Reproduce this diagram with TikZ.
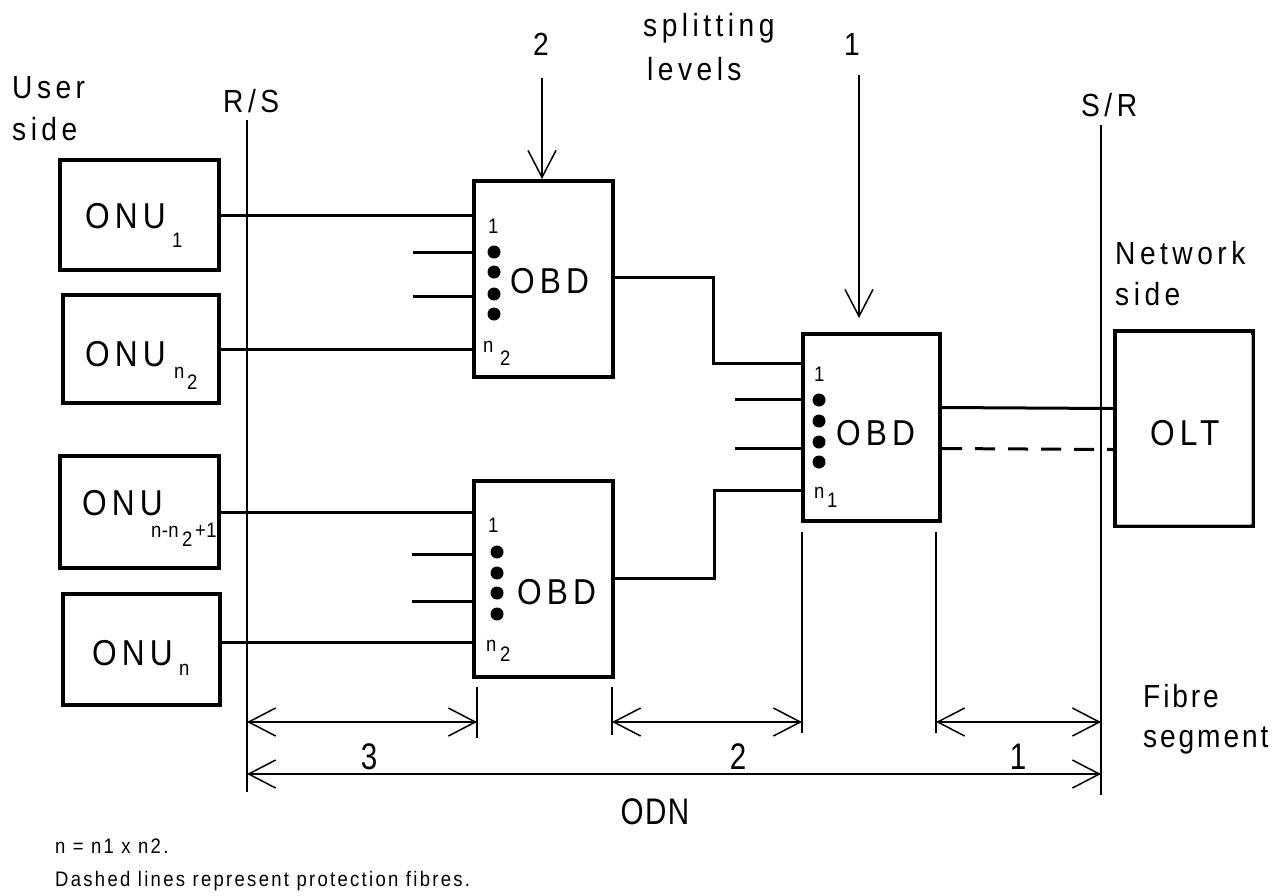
\documentclass[tikz,border=0pt]{standalone}
\usepackage{fontspec}
\setmainfont{Liberation Sans}[FakeStretch=0.88, LetterSpace=14]
\newfontfamily\tightfont{Liberation Sans}[FakeStretch=0.88, LetterSpace=9]
\newfontfamily\notefont{Liberation Sans}[FakeStretch=0.88, LetterSpace=11]
\newfontfamily\smallfont{Liberation Sans}[FakeStretch=0.88, LetterSpace=2]
\newfontfamily\narrowfont{Liberation Sans}[FakeStretch=0.8, LetterSpace=4]
\usetikzlibrary{arrows.meta,calc}
\begin{document}
\begin{tikzpicture}[x=1pt,y=-1pt,
  box/.style={draw, line width=4pt, inner sep=0pt},
  fibre/.style={line width=3pt},
  ref/.style={line width=1.5pt},
  barb/.tip={Straight Barb[length=27pt,width=28pt]},
  dim/.style={line width=1.5pt, barb-barb},
  lvl/.style={line width=1.5pt, -barb},
  lbl/.style={inner sep=0pt, anchor=base west, font=\fontsize{32}{38}\selectfont},
  big/.style={inner sep=0pt, anchor=base west, font=\fontsize{36}{42}\selectfont},
  small/.style={inner sep=0pt, anchor=base west, font=\smallfont\fontsize{21}{25}\selectfont},
  num/.style={inner sep=0pt, anchor=base, font=\narrowfont\fontsize{37}{42}\selectfont},
  note/.style={inner sep=0pt, anchor=base west, font=\notefont\fontsize{21}{25}\selectfont},
  dot/.style={fill=black, circle, inner sep=0pt, minimum size=13pt}]
\useasboundingbox (0,0) rectangle (1276,895);

% boxes
\node[box, minimum width=159pt, minimum height=110pt] (onu1) at (139.5,215) {};
\node[box, minimum width=156pt, minimum height=108pt] (onun2) at (141,349) {};
\node[box, minimum width=159pt, minimum height=112pt] (onuk) at (139.5,512) {};
\node[box, minimum width=157pt, minimum height=111pt] (onun) at (141.5,649.5) {};
\node[box, minimum width=139pt, minimum height=196pt] (obdA) at (543.5,279) {};
\node[box, minimum width=139pt, minimum height=196pt] (obdB) at (543.5,579) {};
\node[box, minimum width=137pt, minimum height=187pt] (obdC) at (871.5,427.5) {};
\node[box, minimum width=138pt, minimum height=195pt] (olt) at (1184,428.5) {};
\draw[gray!55, line width=1pt] ($(olt.south east)+(-4,-4)$) coordinate (oltA) -- ($(olt.north east)+(-4,6)$) coordinate (oltB);
\draw[gray!55, line width=1pt] (oltA) -- ($(olt.south west)+(4,-4)$) coordinate (oltC);

% box texts
\node[big] (t1) at (85,228) {ONU};
\node[small] (s1) at (172,247) {1};
\node[big] (t2) at (85,366) {ONU};
\node[small] (s2a) at (174,378) {n};
\node[small] (s2b) at (187,389) {2};
\node[big] (t3) at (82,515) {ONU};
\node[small] (s3a) at (151,537) {n-n};
\node[small] (s3b) at (182,546) {2};
\node[small] (s3c) at (195,537) {+1};
\node[big] (t4) at (92,665) {ONU};
\node[small] (s4) at (179,675) {n};

\node[big] (tA) at (510,293) {OBD};
\node[big] (tB) at (517,604) {OBD};
\node[big] (tC) at (836,445) {OBD};
\node[big] (tO) at (1150,445) {OLT};

\node[small] (pA1) at (488,233) {1};
\node[small] (pAn) at (483,352) {n};
\node[small] (pA2) at (500,365) {2};
\node[small] (pB1) at (488,532) {1};
\node[small] (pBn) at (486,651) {n};
\node[small] (pB2) at (500,661) {2};
\node[small] (pC1) at (814,381) {1};
\node[small] (pCn) at (814,498) {n};
\node[small] (pC2) at (827,507) {1};

% dots
\foreach \y [count=\i] in {252,272,294,314} \node[dot] (dA\i) at (494,\y) {};
\foreach \y [count=\i] in {552,573,593,614} \node[dot] (dB\i) at (497,\y) {};
\foreach \y [count=\i] in {400,421,442,462} \node[dot] (dC\i) at (819,\y) {};

% fibres ONU -> OBD
\draw[fibre] (onu1.east) -- (onu1.east -| obdA.west);
\draw[fibre] (onun2.east) -- (onun2.east -| obdA.west);
\draw[fibre] (onuk.east) -- (onuk.east -| obdB.west);
\draw[fibre] ($(onun.east)+(0,-7)$) coordinate (onp) -- (onp -| obdB.west);
\coordinate (sA1) at (413,252); \coordinate (sA2) at (413,296);
\coordinate (sB1) at (412,554); \coordinate (sB2) at (412,601);
\coordinate (sC1) at (735,399); \coordinate (sC2) at (735,448);
\draw[fibre] (sA1) -- (sA1 -| obdA.west);
\draw[fibre] (sA2) -- (sA2 -| obdA.west);
\draw[fibre] (sB1) -- (sB1 -| obdB.west);
\draw[fibre] (sB2) -- (sB2 -| obdB.west);
\draw[fibre] (sC1) -- (sC1 -| obdC.west);
\draw[fibre] (sC2) -- (sC2 -| obdC.west);

% OBD -> OBD
\coordinate (cin1) at ($(obdC.north west)+(0,31)$);
\coordinate (cin2) at ($(obdC.north west)+(0,158)$);
\draw[fibre] ($(obdA.east)+(0,-2)$) -- (713,277) |- (cin1);
\draw[fibre] ($(obdB.east)+(0,-1)$) -- (714,578) |- (cin2);

% OBD -> OLT
\draw[fibre] ($(obdC.east)+(0,-20)$) -- ($(olt.west)+(0,-20)$);
\draw[fibre, dash pattern=on 20pt off 13pt] ($(obdC.east)+(0,21)$) -- ($(olt.west)+(0,21)$);

% reference lines
\coordinate (rsT) at (247,120); \coordinate (rsB) at (247,792);
\coordinate (srT) at (1101,125); \coordinate (srB) at (1101,795);
\draw[ref] (rsT) -- (rsB);
\draw[ref] (srT) -- (srB);
\node[lbl] (rs) at (223,112) {R/S};
\node[lbl] (sr) at (1081,116) {S/R};

% ticks
\coordinate (k1) at (477,687); \coordinate (k2) at (612,687);
\coordinate (k3) at (802,532); \coordinate (k4) at (936,532);
\draw[ref] (k1) -- (477,738);
\draw[ref] (k2) -- (612,735);
\draw[ref] (k3) -- (802,733);
\draw[ref] (k4) -- (936,733);

% dimension arrows
\draw[dim] (rsB |- 0,722) -- (k1 |- 0,722);
\draw[dim] (k2 |- 0,722) -- (k3 |- 0,722);
\draw[dim] (k4 |- 0,722) -- (srB |- 0,722);
\draw[dim] (rsB |- 0,774) -- (srB |- 0,774);
\node[num] (d3) at (369,769) {3};
\node[num] (d2) at (738,769) {2};
\node[num] (d1) at (1018,769) {1};
\node[num] (odn) at (655,824) {ODN};

% splitting levels
\node[lbl, anchor=base] (L2) at (541,55) {2};
\node[lbl, anchor=base] (L1) at (852,55) {1};
\draw[lvl] (542,78) -- (obdA.north -| 542,0);
\draw[lvl] (859,75) -- (859,318);
\node[lbl] (sp1) at (643,36) {splitting};
\node[lbl] (sp2) at (647,80) {levels};

% side labels
\node[lbl] (us1) at (12,98) {User};
\node[lbl] (us2) at (12,140) {side};
\node[lbl] (ns1) at (1115,264) {Network};
\node[lbl] (ns2) at (1115,305) {side};
\node[lbl, font=\tightfont\fontsize{32}{38}\selectfont] (fs1) at (1143,707) {Fibre};
\node[lbl, font=\tightfont\fontsize{32}{38}\selectfont] (fs2) at (1143,747) {segment};

% notes
\node[note] (n1) at (55,853) {n = n1 x n2.};
\node[note] (n2) at (55,886) {Dashed lines represent protection fibres.};
\end{tikzpicture}
\end{document}
